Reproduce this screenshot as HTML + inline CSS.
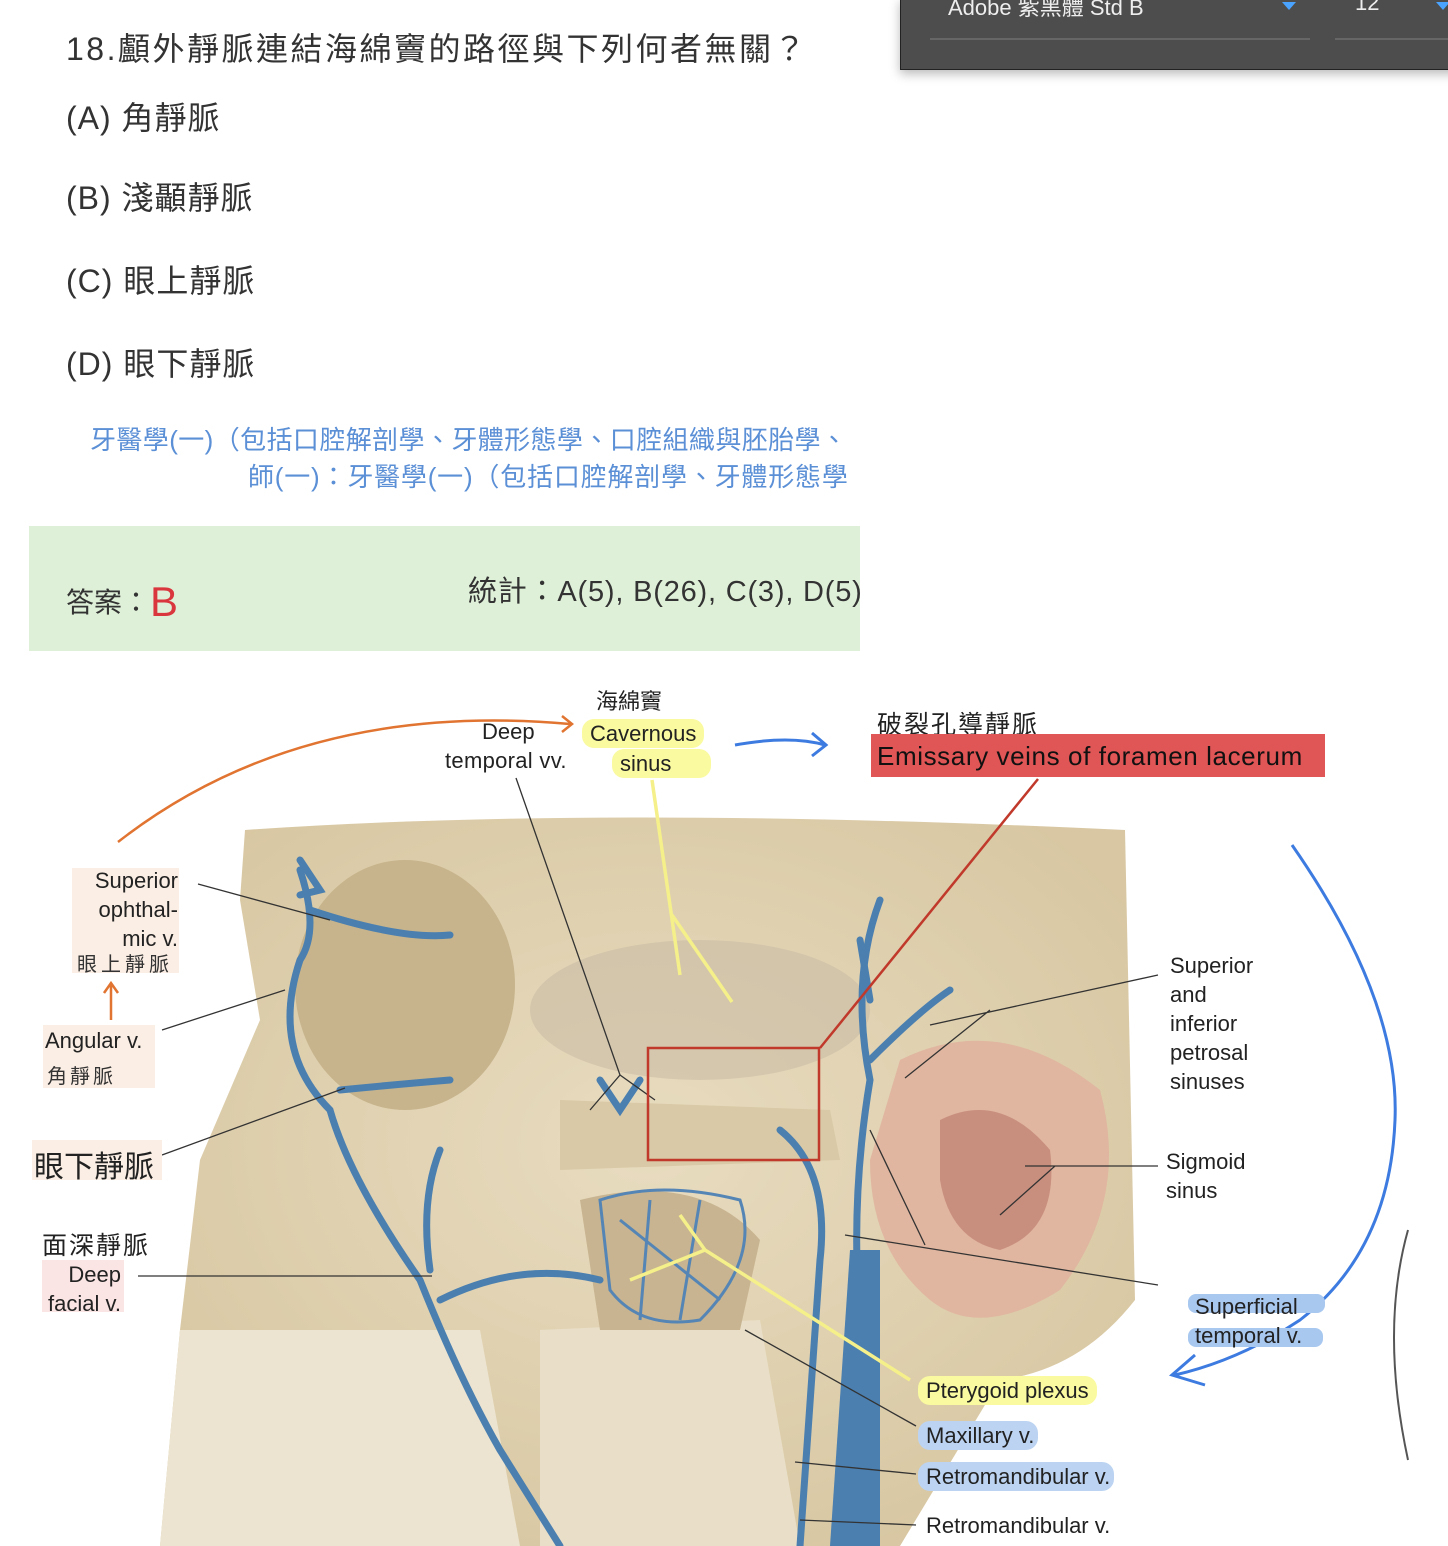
<!DOCTYPE html>
<html><head><meta charset="utf-8"><style>
body{margin:0;width:1448px;height:1546px;background:#fff;position:relative;overflow:hidden;font-family:"Liberation Sans","Noto Sans CJK TC",sans-serif}
.a{position:absolute;white-space:nowrap}
.q{color:#333;font-size:32px;letter-spacing:1px}
.l{font-size:22px;color:#222;line-height:29px}
</style></head><body>
<div class="a" style="left:900px;top:-2px;width:560px;height:70px;background:#4d4d4d;border:1px solid #222;box-shadow:0 4px 10px #bbb"></div>
<div class="a" style="left:948px;top:-10px;color:#eee;font-size:22px">Adobe 紫黑體 Std B</div>
<div class="a" style="left:1282px;top:2px;width:0;height:0;border-left:7px solid transparent;border-right:7px solid transparent;border-top:8px solid #4aa3ff"></div>
<div class="a" style="left:1355px;top:-10px;color:#eee;font-size:22px">12</div>
<div class="a" style="left:1436px;top:2px;width:0;height:0;border-left:7px solid transparent;border-right:7px solid transparent;border-top:8px solid #4aa3ff"></div>
<div class="a" style="left:930px;top:38px;width:380px;height:2px;background:#666"></div>
<div class="a" style="left:1335px;top:38px;width:120px;height:2px;background:#666"></div>

<div class="a q" style="left:66px;top:24px;letter-spacing:2.5px">18.顱外靜脈連結海綿竇的路徑與下列何者無關？</div>
<div class="a q" style="left:66px;top:93px">(A) 角靜脈</div>
<div class="a q" style="left:66px;top:173px">(B) 淺顳靜脈</div>
<div class="a q" style="left:66px;top:256px">(C) 眼上靜脈</div>
<div class="a q" style="left:66px;top:339px">(D) 眼下靜脈</div>
<div class="a" style="left:90px;top:420px;color:#5b8fd6;font-size:26px;letter-spacing:0.4px">牙醫學(一)（包括口腔解剖學、牙體形態學、口腔組織與胚胎學、</div>
<div class="a" style="left:248px;top:457px;color:#5b8fd6;font-size:26px;letter-spacing:0.8px">師(一)：牙醫學(一)（包括口腔解剖學、牙體形態學</div>
<div class="a" style="left:29px;top:526px;width:831px;height:125px;background:#dff0d8"></div>
<div class="a" style="left:66px;top:578px;font-size:28px;color:#333">答案：<span style="color:#d9363e;font-size:42px;vertical-align:-4px">B</span></div>
<div class="a" style="left:468px;top:568px;font-size:29px;color:#333;letter-spacing:0.8px">統計：A(5), B(26), C(3), D(5)</div>

<svg class="a" style="left:0;top:0" width="1448" height="1546">
<defs><radialGradient id="g" cx="50%" cy="45%" r="60%"><stop offset="0" stop-color="#e8dcc0"/><stop offset="1" stop-color="#d8c7a2"/></radialGradient></defs>
<path d="M245,830 Q600,805 1125,830 L1135,1300 Q1080,1370 1000,1380 L900,1546 L160,1546 L180,1330 L200,1160 L260,1020 L240,900 Z" fill="url(#g)"/>
<path d="M180,1330 L480,1330 L520,1546 L160,1546Z" fill="#ece4d0"/>
<path d="M540,1330 L760,1320 L800,1546 L540,1546Z" fill="#e9dfc8"/>
<ellipse cx="405" cy="985" rx="110" ry="125" fill="#c7b48c"/>
<ellipse cx="700" cy="1010" rx="170" ry="70" fill="#c9bda5" opacity=".6"/>
<path d="M560,1100 L830,1110 L840,1160 L560,1170Z" fill="#d9c9a6"/>
<path d="M580,1200 Q700,1170 760,1240 L740,1330 L600,1330Z" fill="#c8b490"/>
<path d="M900,1060 Q1000,1010 1100,1090 Q1130,1200 1060,1290 Q980,1340 930,1300 Q870,1250 870,1160 Z" fill="#e0b6a0"/>
<path d="M940,1120 Q1000,1090 1050,1150 Q1060,1230 1000,1250 Q950,1240 940,1180Z" fill="#c98f7e"/>
<g fill="none" stroke="#4a7fb0" stroke-width="7" stroke-linecap="round">
<path d="M300,870 Q320,930 300,960 Q270,1050 330,1110 Q350,1180 420,1280 Q460,1380 500,1450 L560,1546"/>
<path d="M310,910 Q400,940 450,935"/><path d="M300,860 L320,890 L300,895"/>
<path d="M340,1090 Q390,1085 450,1080"/>
<path d="M430,1270 Q420,1200 440,1150"/><path d="M440,1300 Q520,1260 600,1280"/>
<path d="M880,900 Q850,980 870,1080 Q850,1200 860,1320 L850,1546"/>
<path d="M870,1060 Q920,1010 950,990"/><path d="M860,940 L870,1000"/>
<path d="M780,1130 Q830,1170 820,1260 L800,1546"/>
<path d="M600,1080 L620,1110 L640,1080"/>
</g>
<path d="M850,1250 L880,1250 L880,1546 L830,1546Z" fill="#4a7fb0"/>
<g fill="none" stroke="#5585b5" stroke-width="3"><path d="M600,1200 Q660,1180 740,1200 Q760,1260 700,1320 Q640,1330 610,1290 Z M620,1220 L720,1300 M650,1200 L640,1320 M700,1200 L680,1320"/></g>
<g fill="none" stroke="#333" stroke-width="1.3">
<path d="M198,884 L330,920"/><path d="M162,1030 L285,990"/><path d="M162,1155 L345,1088"/><path d="M138,1276 L432,1276"/>
<path d="M516,778 L620,1075 L590,1110 M620,1075 L655,1100"/>
<path d="M1158,975 L930,1025 M990,1010 L905,1078"/><path d="M1158,1166 L1025,1166 M1055,1166 L1000,1215"/>
<path d="M1158,1285 L845,1235 M870,1130 L925,1245"/>
<path d="M916,1426 L745,1330"/><path d="M916,1474 L795,1462"/><path d="M916,1525 L800,1520"/>
</g>
<g fill="none" stroke="#f5f08a" stroke-width="3.5"><path d="M652,780 L680,975 M672,915 L732,1002"/><path d="M910,1380 L705,1250 M705,1250 L630,1280 M705,1250 L680,1215"/></g>
<path d="M1038,779 L820,1048" stroke="#c0392b" stroke-width="2.5" fill="none"/>
<rect x="648" y="1048" width="171" height="112" fill="none" stroke="#c0392b" stroke-width="2.5"/>
<path d="M118,842 Q300,700 570,724" fill="none" stroke="#e07430" stroke-width="2.5"/>
<path d="M562,716 L572,724 L562,732" fill="none" stroke="#e07430" stroke-width="2.5"/>
<path d="M111,1020 L111,985 M104,993 L111,983 L118,993" fill="none" stroke="#e07430" stroke-width="2.5"/>
<path d="M735,745 Q790,735 825,745 M812,733 L826,745 L812,756" fill="none" stroke="#3d7be0" stroke-width="3"/>
<path d="M1292,845 Q1400,1000 1395,1120 Q1390,1250 1300,1320 Q1240,1360 1175,1375 M1195,1355 L1172,1375 L1205,1385" fill="none" stroke="#3d7be0" stroke-width="3"/>
<path d="M1408,1230 Q1380,1330 1408,1460" fill="none" stroke="#555" stroke-width="2"/>
</svg>

<div class="a" style="left:596px;top:684px;font-size:22px;color:#222">海綿竇</div>
<div class="a l" style="left:482px;top:717px;text-align:right">Deep</div>
<div class="a l" style="left:445px;top:746px;letter-spacing:0.3px">temporal vv.</div>
<div class="a l" style="left:582px;top:719px;background:#fafaa0;border-radius:12px;padding:0 8px">Cavernous</div>
<div class="a l" style="left:612px;top:749px;background:#fafaa0;border-radius:12px;padding:0 40px 0 8px">sinus</div>
<div class="a" style="left:877px;top:705px;font-size:25px;color:#222;letter-spacing:2px">破裂孔導靜脈</div>
<div class="a" style="left:871px;top:734px;width:454px;height:43px;background:#e05555"></div>
<div class="a" style="left:877px;top:741px;font-size:26px;color:#111;letter-spacing:0.6px">Emissary veins of foramen lacerum</div>

<div class="a" style="left:72px;top:868px;width:107px;height:105px;background:#fbeee4"></div>
<div class="a l" style="left:72px;top:866px;width:106px;text-align:right">Superior<br>ophthal-<br>mic v.</div>
<div class="a" style="left:77px;top:948px;font-size:20px;color:#333;letter-spacing:4px">眼上靜脈</div>
<div class="a" style="left:43px;top:1025px;width:112px;height:63px;background:#fbeee4"></div>
<div class="a l" style="left:45px;top:1026px">Angular v.</div>
<div class="a" style="left:47px;top:1060px;font-size:20px;color:#333;letter-spacing:3px">角靜脈</div>
<div class="a" style="left:32px;top:1140px;width:130px;height:40px;background:#fbeee4"></div>
<div class="a" style="left:34px;top:1142px;font-size:30px;color:#222">眼下靜脈</div>
<div class="a" style="left:42px;top:1226px;font-size:25px;color:#222;letter-spacing:2px">面深靜脈</div>
<div class="a" style="left:42px;top:1260px;width:82px;height:52px;background:#fbe4e4"></div>
<div class="a l" style="left:45px;top:1260px;width:76px;text-align:right">Deep<br>facial v.</div>

<div class="a l" style="left:1170px;top:951px">Superior<br>and<br>inferior<br>petrosal<br>sinuses</div>
<div class="a l" style="left:1166px;top:1147px">Sigmoid<br>sinus</div>
<div class="a" style="left:1188px;top:1294px;width:137px;height:19px;background:#a9c8f0;border-radius:8px"></div>
<div class="a" style="left:1188px;top:1328px;width:135px;height:19px;background:#a9c8f0;border-radius:8px"></div>
<div class="a l" style="left:1195px;top:1292px">Superficial<br>temporal v.</div>
<div class="a l" style="left:918px;top:1376px;background:#fafaa0;border-radius:12px;padding:0 8px">Pterygoid plexus</div>
<div class="a l" style="left:918px;top:1421px;background:#bcd4f2;border-radius:12px;padding:0 4px 0 8px">Maxillary v.</div>
<div class="a l" style="left:918px;top:1462px;background:#bcd4f2;border-radius:12px;padding:0 4px 0 8px">Retromandibular v.</div>
<div class="a l" style="left:926px;top:1511px">Retromandibular v.</div>
</body></html>
